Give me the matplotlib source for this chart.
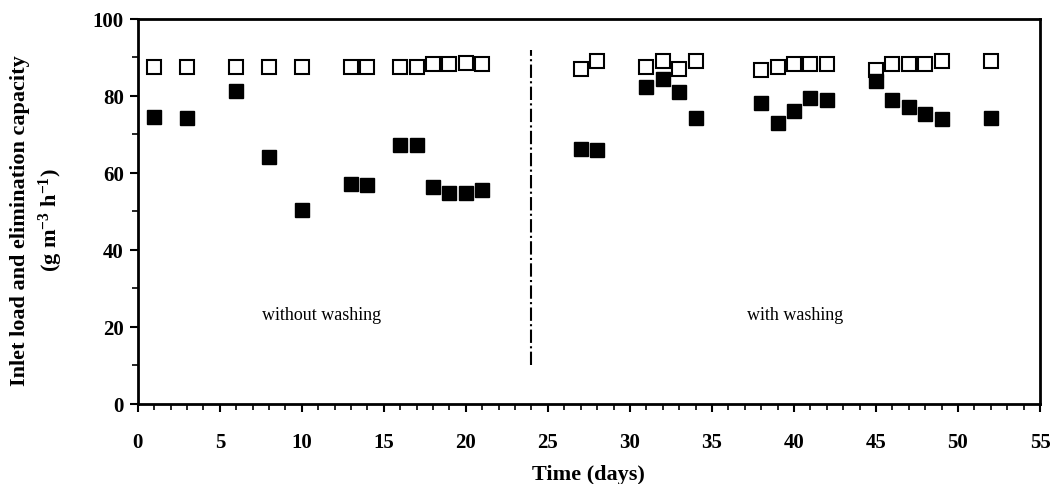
import matplotlib
matplotlib.use("Agg")
from matplotlib import pyplot as plt
from matplotlib.ticker import MultipleLocator

plt.rcParams['font.family'] = 'Liberation Serif'
plt.rcParams['mathtext.fontset'] = 'custom'
plt.rcParams['mathtext.rm'] = 'Liberation Serif:bold'
plt.rcParams['mathtext.it'] = 'Liberation Serif:bold'
plt.rcParams['mathtext.bf'] = 'Liberation Serif:bold'

#Inlet load (open squares)
days_load = [1, 3, 6, 8, 10, 13, 14, 16, 17, 18, 19, 20, 21,
             27, 28, 31, 32, 33, 34, 38, 39, 40, 41, 42, 45, 46, 47, 48, 49, 52]
inlet_load = [87.5, 87.5, 87.5, 87.5, 87.5, 87.5, 87.5, 87.5, 87.5, 88.3, 88.3, 88.5, 88.3,
              87.0, 89.0, 87.5, 89.0, 87.0, 89.0, 86.8, 87.5, 88.3, 88.3, 88.3,
              86.8, 88.3, 88.3, 88.3, 89.0, 89.0]

#Elimination capacity (filled squares)
days_ec = days_load
elim_cap = [74.5, 74.2, 81.2, 64.2, 50.4, 57.2, 56.8, 67.2, 67.2, 56.3, 54.8, 54.8, 55.6,
            66.3, 66.0, 82.3, 84.4, 81.0, 74.4, 78.1, 72.9, 76.2, 79.5, 79.0,
            83.8, 79.0, 77.2, 75.3, 74.1, 74.4]

#Separator between periods
switch_day = 24

fig = plt.figure(figsize=(10.52, 4.85), dpi=100)
ax = fig.add_axes([0.131, 0.165, 0.8576, 0.7938])

ax.plot(days_load, inlet_load, linestyle='none', marker='s', markersize=10,
        markerfacecolor='white', markeredgecolor='black', markeredgewidth=1.5, zorder=3)
ax.plot(days_ec, elim_cap, linestyle='none', marker='s', markersize=10,
        color='black', zorder=4)

ax.plot([switch_day, switch_day], [10, 92], color='black', linestyle='-.', linewidth=1.5)

ax.text(11.2, 23.2, 'without washing', ha='center', va='center', fontsize=13)
ax.text(40.1, 23.2, 'with washing', ha='center', va='center', fontsize=13)

#Formatting
ax.set_xlim(0, 55)
ax.set_ylim(0, 100)
ax.xaxis.set_major_locator(MultipleLocator(5))
ax.xaxis.set_minor_locator(MultipleLocator(1))
ax.yaxis.set_major_locator(MultipleLocator(20))
ax.yaxis.set_minor_locator(MultipleLocator(10))
ax.tick_params(which='major', direction='out', length=6, width=1.5, labelsize=15)
ax.tick_params(axis='x', which='major', pad=14)
ax.tick_params(axis='y', which='major', pad=4)
ax.tick_params(which='minor', direction='out', length=4, width=1.2)
for lbl in ax.get_xticklabels() + ax.get_yticklabels():
    lbl.set_fontweight('bold')
for sp in ax.spines.values():
    sp.set_linewidth(2)

ax.set_xlabel('Time (days)', fontsize=16, fontweight='bold')
ax.xaxis.set_label_coords(0.5, -0.155)
ax.set_ylabel('Inlet load and elimination capacity\n(g m$^{-3}$ h$^{-1}$)',
              fontsize=16, fontweight='bold', linespacing=1.33)
ax.yaxis.set_label_coords(-0.081, 0.48)

plt.savefig('out.png', dpi=100)
